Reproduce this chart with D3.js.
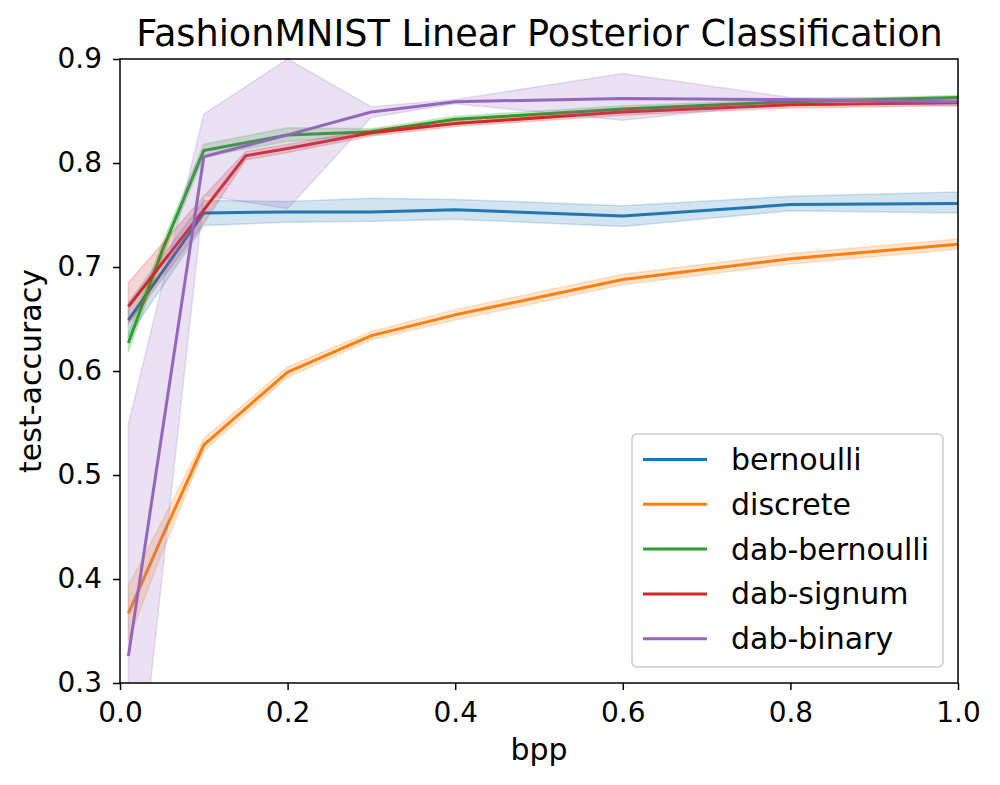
<!DOCTYPE html>
<html>
<head>
<meta charset="utf-8">
<script src="https://cdn.jsdelivr.net/npm/d3@7"></script>
<style>
  html, body { margin: 0; padding: 0; background: #fff; }
  svg { display: block; font-family: "DejaVu Sans", sans-serif; }
</style>
</head>
<body>
<svg id="chart" width="1000" height="785"></svg>
<script>
// ---- data ----
const seriesNames = ["bernoulli", "discrete", "dab-bernoulli", "dab-signum", "dab-binary"];

const bppBernoulli  = [0.01, 0.1, 0.2, 0.3, 0.4, 0.6, 0.8, 1.0];
const accBernoulli  = [0.649, 0.752, 0.753, 0.753, 0.755, 0.749, 0.760, 0.761];
const lowBernoulli  = [0.633, 0.740, 0.743, 0.744, 0.746, 0.739, 0.754, 0.752];
const highBernoulli = [0.666, 0.764, 0.763, 0.766, 0.765, 0.759, 0.768, 0.772];

const bppDiscrete  = [0.01, 0.05, 0.1, 0.2, 0.3, 0.4, 0.6, 0.8, 1.0];
const accDiscrete  = [0.367, 0.440, 0.529, 0.599, 0.634, 0.654, 0.688, 0.708, 0.722];
const lowDiscrete  = [0.341, 0.425, 0.523, 0.594, 0.630, 0.649, 0.683, 0.703, 0.717];
const highDiscrete = [0.394, 0.455, 0.535, 0.604, 0.638, 0.659, 0.693, 0.713, 0.727];

const bppDabBernoulli  = [0.01, 0.05, 0.1, 0.2, 0.3, 0.4, 0.6, 0.8, 1.0];
const accDabBernoulli  = [0.627, 0.715, 0.812, 0.827, 0.830, 0.842, 0.852, 0.859, 0.863];
const lowDabBernoulli  = [0.618, 0.708, 0.806, 0.821, 0.827, 0.839, 0.849, 0.857, 0.861];
const highDabBernoulli = [0.636, 0.722, 0.818, 0.834, 0.833, 0.845, 0.855, 0.861, 0.865];

const bppDabSignum  = [0.01, 0.1, 0.15, 0.2, 0.3, 0.4, 0.6, 0.8, 1.0];
const accDabSignum  = [0.662, 0.755, 0.807, 0.814, 0.829, 0.838, 0.849, 0.856, 0.858];
const lowDabSignum  = [0.645, 0.742, 0.803, 0.810, 0.826, 0.835, 0.846, 0.853, 0.855];
const highDabSignum = [0.685, 0.768, 0.811, 0.818, 0.832, 0.841, 0.852, 0.859, 0.861];

const bppDabBinary  = [0.01, 0.1, 0.2, 0.3, 0.4, 0.6, 0.8, 1.0];
const accDabBinary  = [0.326, 0.806, 0.827, 0.849, 0.859, 0.862, 0.861, 0.859];
const lowDabBinary  = [0.105, 0.769, 0.756, 0.844, 0.857, 0.841, 0.858, 0.855];
const highDabBinary = [0.549, 0.847, 0.900, 0.854, 0.861, 0.886, 0.863, 0.862];

const xTicks = [0.0, 0.2, 0.4, 0.6, 0.8, 1.0];
const yTicks = [0.3, 0.4, 0.5, 0.6, 0.7, 0.8, 0.9];
const colors = ["#1f77b4", "#ff7f0e", "#2ca02c", "#d62728", "#9467bd"];

const titleText = "FashionMNIST Linear Posterior Classification";
const xLabelText = "bpp";
const yLabelText = "test-accuracy";

// ---- assemble ----
const raw = [
  [bppBernoulli, accBernoulli, lowBernoulli, highBernoulli],
  [bppDiscrete, accDiscrete, lowDiscrete, highDiscrete],
  [bppDabBernoulli, accDabBernoulli, lowDabBernoulli, highDabBernoulli],
  [bppDabSignum, accDabSignum, lowDabSignum, highDabSignum],
  [bppDabBinary, accDabBinary, lowDabBinary, highDabBinary]
];
const series = raw.map((r, i) => ({
  name: seriesNames[i],
  color: colors[i],
  pts: r[0].map((x, j) => ({ x, y: r[1][j], lo: r[2][j], hi: r[3][j] }))
}));

// helper: scale font-size so a text element has the wanted rendered width
function fitSize(node, target) {
  const fs = parseFloat(node.style.fontSize);
  const w = node.getComputedTextLength();
  return w > 0 ? fs * target / w : fs;
}

// ---- layout ----
const svg = d3.select("#chart");
const margin = { left: 120, right: 42, top: 59, bottom: 102 };
const W = 1000, H = 785;
const x = d3.scaleLinear().domain([0, 1]).range([margin.left, W - margin.right]);
const y = d3.scaleLinear().domain([0.3, 0.9]).range([H - margin.bottom, margin.top]);

svg.append("defs").append("clipPath").attr("id", "plotclip")
  .append("rect")
  .attr("x", x(0)).attr("y", y(0.9))
  .attr("width", x(1) - x(0)).attr("height", y(0.3) - y(0.9));

const plot = svg.append("g").attr("clip-path", "url(#plotclip)");

const area = d3.area().x(d => x(d.x)).y0(d => y(d.lo)).y1(d => y(d.hi));
const line = d3.line().x(d => x(d.x)).y(d => y(d.y));

series.forEach(s => {
  plot.append("path")
    .attr("d", area(s.pts))
    .attr("fill", s.color).attr("fill-opacity", 0.2)
    .attr("stroke", s.color).attr("stroke-opacity", 0.2).attr("stroke-width", 1.5);
  plot.append("path")
    .attr("d", line(s.pts))
    .attr("fill", "none")
    .attr("stroke", s.color).attr("stroke-width", 3)
    .attr("stroke-linejoin", "round").attr("stroke-linecap", "butt");
});

// ---- axes ----
const fmt = d3.format(".1f");
const xAxis = svg.append("g")
  .attr("transform", `translate(0,${y(0.3)})`)
  .call(d3.axisBottom(x).tickValues(xTicks).tickFormat(fmt).tickSize(7).tickPadding(12));
const yAxis = svg.append("g")
  .attr("transform", `translate(${x(0)},0)`)
  .call(d3.axisLeft(y).tickValues(yTicks).tickFormat(fmt).tickSize(7).tickPadding(11));
[xAxis, yAxis].forEach(a => {
  a.select(".domain").remove();
  a.selectAll(".tick line").attr("stroke", "#000").attr("stroke-width", 1.5);
  a.selectAll(".tick text").attr("fill", "#000")
    .style("font-family", "'DejaVu Sans', sans-serif").style("font-size", "28px");
});
// match tick label width of the reference ("0.6" ≈ 44px wide)
const tickFs = fitSize(yAxis.selectAll(".tick text").nodes()[3], 44.5);
svg.selectAll(".tick text").style("font-size", tickFs + "px");

// spines
svg.append("rect")
  .attr("x", x(0)).attr("y", y(0.9))
  .attr("width", x(1) - x(0)).attr("height", y(0.3) - y(0.9))
  .attr("fill", "none").attr("stroke", "#000").attr("stroke-width", 1.5);

// labels
const title = svg.append("text").attr("x", 539.5).attr("y", 46)
  .attr("text-anchor", "middle").style("font-size", "35px").text(titleText);
title.style("font-size", fitSize(title.node(), 807) + "px");

const yl = svg.append("text")
  .attr("transform", `translate(41,${(y(0.3) + y(0.9)) / 2}) rotate(-90)`)
  .attr("text-anchor", "middle").style("font-size", "28px").text(yLabelText);
const labelFs = fitSize(yl.node(), 204);
yl.style("font-size", labelFs + "px");

svg.append("text").attr("x", (x(0) + x(1)) / 2).attr("y", 760)
  .attr("text-anchor", "middle").style("font-size", labelFs + "px").text(xLabelText);

// ---- legend ----
const lg = svg.append("g");
lg.append("rect")
  .attr("x", 632).attr("y", 434).attr("width", 311).attr("height", 233)
  .attr("rx", 5).attr("ry", 5)
  .attr("fill", "#fff").attr("fill-opacity", 0.8)
  .attr("stroke", "#cccccc").attr("stroke-width", 1.5);
const legendTexts = [];
series.forEach((s, i) => {
  const cy = 459.5 + i * 44.8;
  lg.append("line").attr("x1", 643).attr("x2", 707).attr("y1", cy).attr("y2", cy)
    .attr("stroke", s.color).attr("stroke-width", 3);
  legendTexts.push(lg.append("text").attr("x", 731).attr("y", cy + 10.5)
    .style("font-size", "28px").text(s.name));
});
const legFs = fitSize(legendTexts[2].node(), 198);
legendTexts.forEach(t => t.style("font-size", legFs + "px"));
</script>
</body>
</html>
